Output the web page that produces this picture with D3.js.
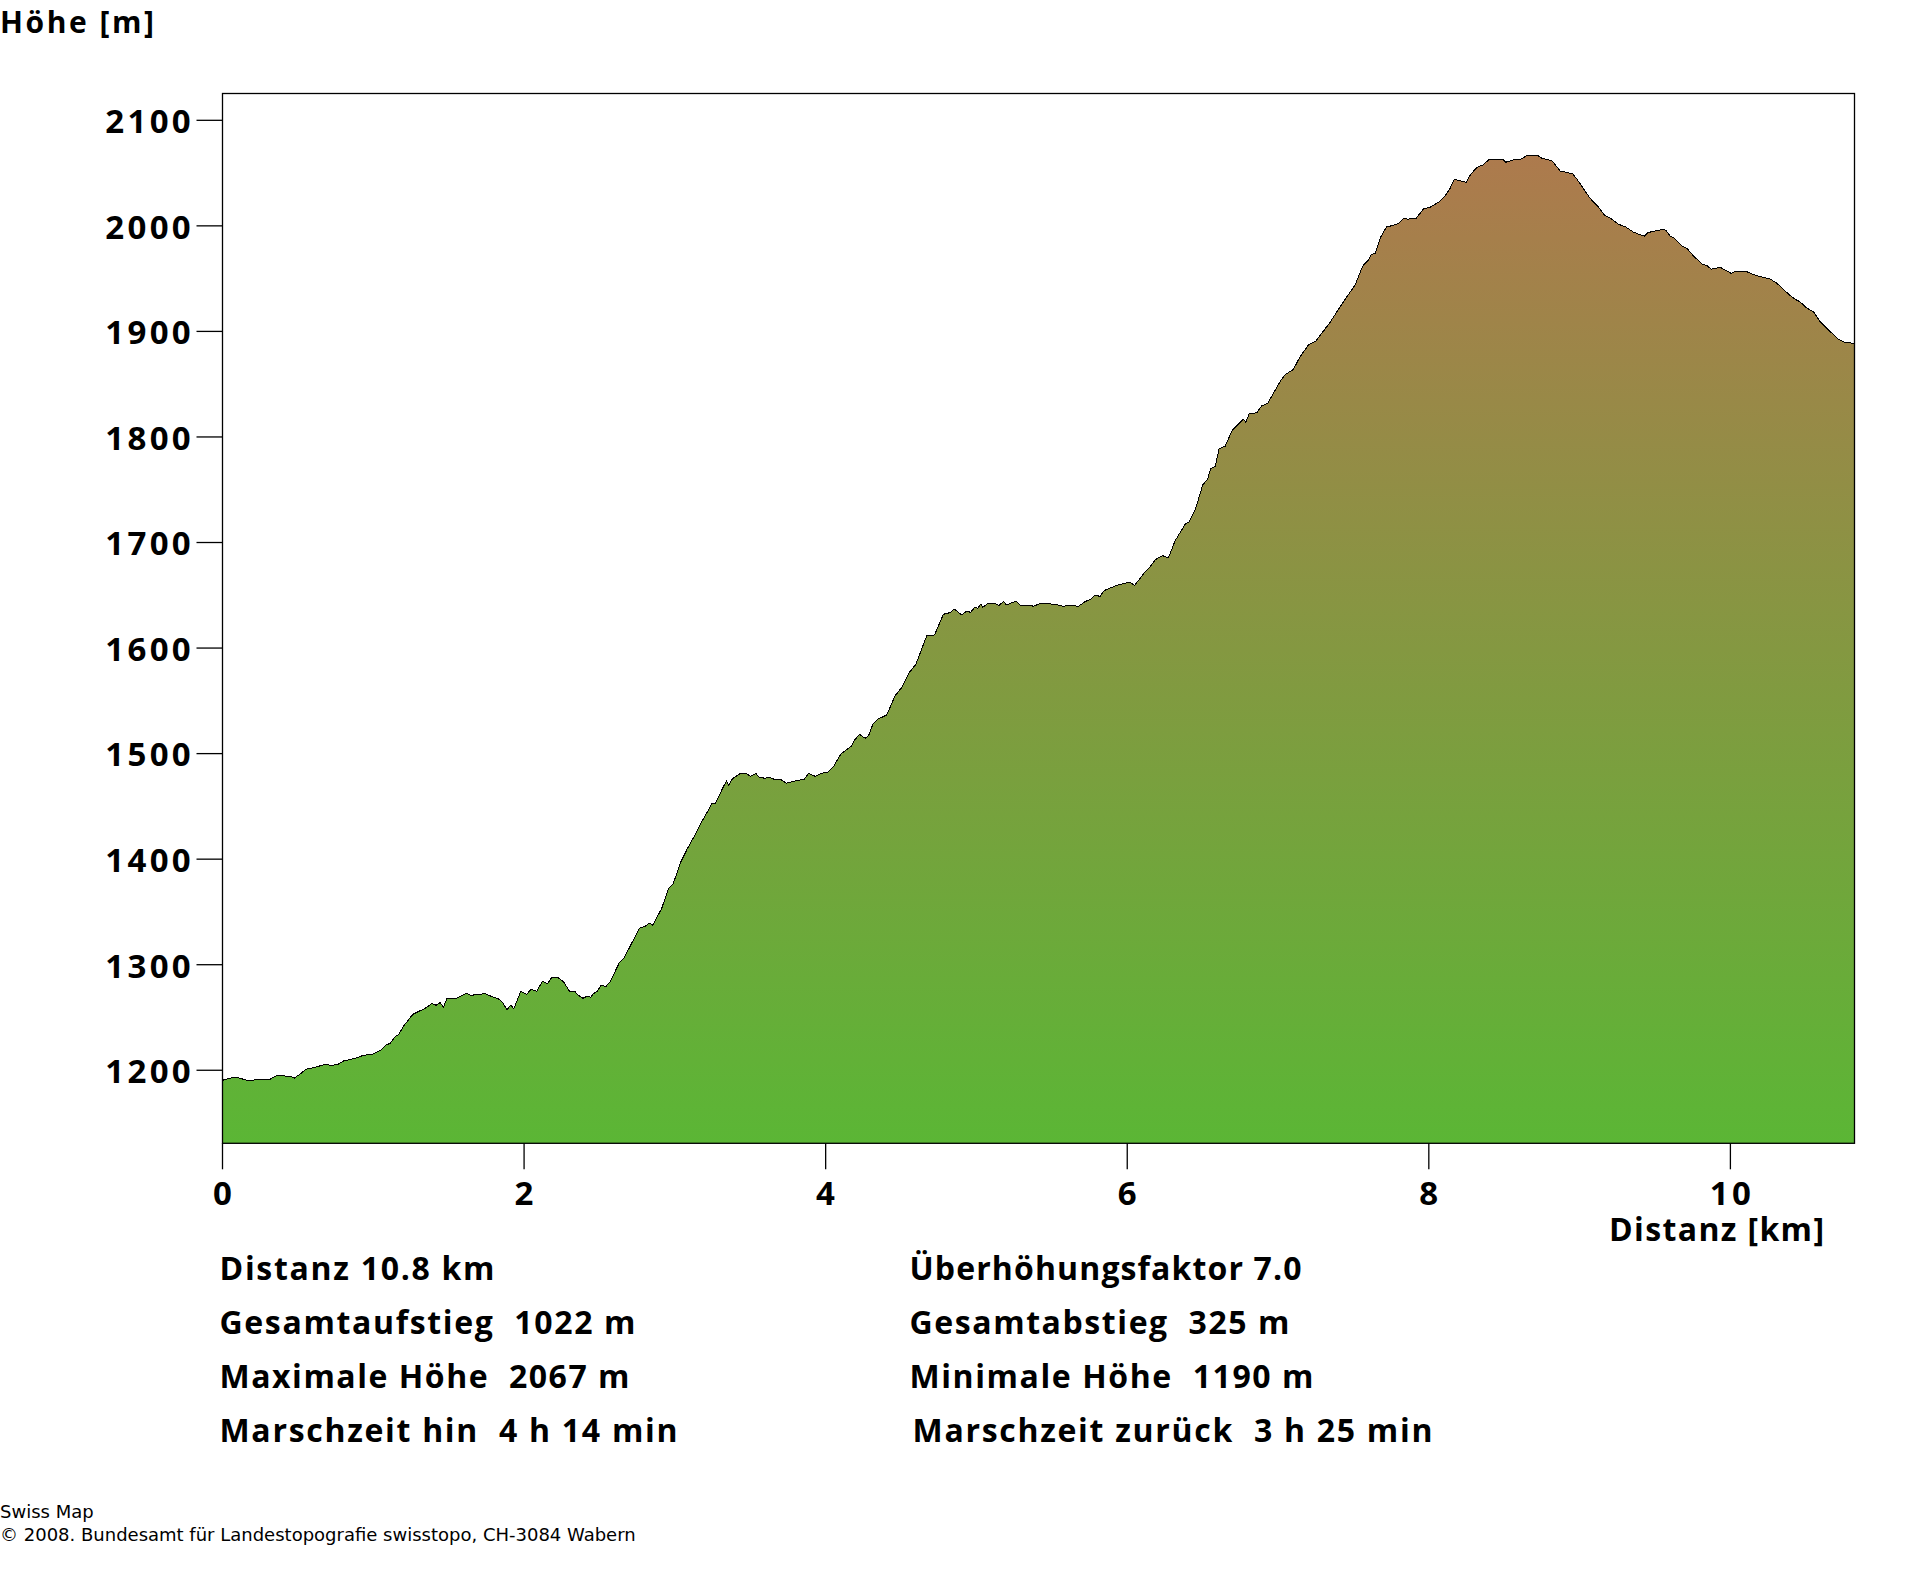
<!DOCTYPE html>
<html>
<head>
<meta charset="utf-8">
<script src="https://d3js.org/d3.v7.min.js"></script>
<style>
html,body{margin:0;padding:0;background:#fff;}
svg{display:block;}
text{white-space:pre;fill:#000;}
.b{font-family:"Open Sans","Noto Sans",sans-serif;font-weight:700;font-size:32px;}
.h{font-size:30px;}
.t{font-size:33px;letter-spacing:3.3px;}
.s{font-family:"DejaVu Sans",sans-serif;font-size:18px;}
</style>
</head>
<body>
<svg id="c" width="1920" height="1572"></svg>
<script>
const distanceKm = [0,.04,.08,.117,.172,.206,.217,.316,.36,.405,.453,.475,.515,.555,.603,.68,.725,.763,.802,.88,.935,.997,1.05,1.079,1.112,1.145,1.167,1.205,1.262,1.344,1.388,1.417,1.443,1.466,1.488,1.51,1.554,1.616,1.647,1.742,1.786,1.83,1.859,1.886,1.912,1.932,1.978,2.018,2.045,2.084,2.122,2.155,2.184,2.228,2.261,2.301,2.339,2.354,2.39,2.416,2.442,2.46,2.487,2.509,2.544,2.571,2.633,2.664,2.765,2.803,2.83,2.854,2.913,2.958,2.986,3.012,3.035,3.084,3.134,3.179,3.245,3.267,3.322,3.342,3.358,3.382,3.433,3.477,3.501,3.539,3.559,3.599,3.627,3.658,3.703,3.738,3.787,3.859,3.886,3.93,3.974,4.014,4.052,4.1,4.136,4.173,4.189,4.224,4.262,4.284,4.313,4.344,4.405,4.461,4.483,4.509,4.556,4.598,4.671,4.722,4.781,4.825,4.852,4.903,4.931,4.962,4.991,5.007,5.029,5.042,5.073,5.124,5.15,5.179,5.199,5.263,5.29,5.356,5.378,5.418,5.478,5.533,5.573,5.617,5.677,5.721,5.754,5.787,5.82,5.847,5.942,6.015,6.05,6.107,6.152,6.185,6.233,6.273,6.317,6.384,6.412,6.454,6.501,6.534,6.552,6.583,6.609,6.649,6.698,6.771,6.786,6.808,6.859,6.892,6.932,7.014,7.047,7.102,7.146,7.202,7.252,7.345,7.434,7.511,7.562,7.6,7.618,7.644,7.682,7.721,7.761,7.799,7.832,7.859,7.916,7.965,8.009,8.071,8.108,8.141,8.168,8.248,8.278,8.318,8.358,8.4,8.491,8.511,8.561,8.617,8.65,8.72,8.749,8.816,8.871,8.955,8.986,9.07,9.132,9.163,9.214,9.258,9.309,9.357,9.428,9.452,9.512,9.556,9.574,9.6,9.627,9.677,9.711,9.755,9.815,9.848,9.872,9.932,9.965,10.005,10.031,10.109,10.153,10.208,10.263,10.308,10.396,10.429,10.462,10.502,10.551,10.595,10.65,10.717,10.75,10.783,10.823];
const elevationM = [1190.5,1192,1193.4,1192.4,1190,1190.5,1191.5,1191.5,1195,1194.6,1194.3,1192.4,1196.5,1201,1202.5,1205.4,1204.7,1205.4,1208.8,1211.4,1214.2,1215.2,1219,1223.4,1225.6,1232,1233.5,1242.6,1253,1258.7,1263.2,1261.6,1264,1259.7,1268.2,1267.6,1268.2,1273,1271,1272.6,1269.8,1267.6,1264,1257.5,1261.6,1258.4,1274.8,1272,1276.7,1274.8,1284.3,1282,1288,1287.5,1284,1275,1274.5,1271.7,1268.2,1270,1269.2,1272.6,1275,1280.2,1279.6,1284,1302.3,1306.7,1334.5,1336.4,1339.3,1337.4,1353.5,1372.4,1376.2,1385.7,1396,1410.3,1423,1435.6,1452.3,1452.3,1468.7,1473.8,1470,1476.3,1481,1480.8,1478.5,1481,1477.6,1476.6,1477.6,1475.7,1475.4,1472,1473.8,1475.7,1481.4,1478.5,1481.4,1482.3,1487.7,1499.4,1503.5,1507.3,1512.3,1518.3,1514.5,1516.8,1527.8,1532.5,1536.6,1555,1558.8,1563.5,1577,1584.6,1611.8,1612.4,1632,1633.6,1637,1631.4,1634.6,1634,1639,1637.4,1641.5,1638.7,1642,1642,1640.5,1644,1641,1644.3,1640.5,1640.5,1639.6,1642,1642,1641,1639.6,1640.5,1639.6,1644,1646,1650,1649,1654.5,1660,1662.3,1659.5,1670.2,1677.2,1683.5,1687.6,1685.4,1701.5,1717.3,1719.8,1732.4,1754.6,1760.2,1769.7,1772,1788.7,1791.2,1806.7,1816.8,1814,1821.8,1823,1829.4,1832,1852.5,1859,1864,1876,1887.2,1891,1908.6,1928.2,1944,1962,1967.7,1972.5,1974,1989.8,1999.3,2000.2,2002.5,2007.2,2006.3,2007.2,2016,2017.6,2023,2028.4,2035.6,2044,2041.3,2048.8,2055.2,2057.7,2062.8,2063,2060.3,2062.5,2063.4,2067,2067,2064,2061.8,2052,2049.2,2043.5,2026,2016.7,2010.4,2006.3,2001.5,1998.7,1994,1990.2,1993.6,1995.5,1996.8,1995.5,1990.5,1988.6,1981,1978.8,1971.5,1963.6,1962,1958.9,1960.8,1958.2,1955,1956.6,1956.6,1953.8,1951.6,1949.7,1945.6,1934,1930.5,1928,1922.6,1918.5,1909.3,1901.4,1892.6,1890,1889.7,1887.8];
const yTicks = [1200,1300,1400,1500,1600,1700,1800,1900,2000,2100];
const xTicks = [0,2,4,6,8,10];
const yTitle = "Höhe [m]";
const xTitle = "Distanz [km]";
const statsLeft = ["Distanz 10.8 km","Gesamtaufstieg  1022 m","Maximale Höhe  2067 m","Marschzeit hin  4 h 14 min"];
const statsRight = ["Überhöhungsfaktor 7.0","Gesamtabstieg  325 m","Minimale Höhe  1190 m","Marschzeit zurück  3 h 25 min"];
const footer = ["Swiss Map","© 2008. Bundesamt für Landestopografie swisstopo, CH-3084 Wabern"];

const svg = d3.select("#c");
const L=222.5,R=1854.5,T=93.5,B=1143.3;
const x = d3.scaleLinear().domain([0,10.823]).range([L,R]);
const y = d3.scaleLinear().domain([1130.8,2125.4]).range([B,T]);
const pts = distanceKm.map((d,i)=>[d,elevationM[i]]);

const grad = svg.append("defs").append("linearGradient").attr("id","g")
  .attr("gradientUnits","userSpaceOnUse").attr("x1",0).attr("x2",0).attr("y1",y(1130.8)).attr("y2",y(2067));
grad.append("stop").attr("offset",0).attr("stop-color","#5bb635");
grad.append("stop").attr("offset",1).attr("stop-color","#ad7a4d");

svg.append("path").datum(pts).attr("fill","url(#g)")
  .attr("d",d3.area().x(d=>x(d[0])).y0(B).y1(d=>y(d[1])));
svg.append("path").datum(pts).attr("fill","none").attr("stroke","#000").attr("stroke-width",1)
  .attr("shape-rendering","crispEdges")
  .attr("d",d3.line().x(d=>x(d[0])).y(d=>y(d[1])));
svg.append("rect").attr("x",L).attr("y",T).attr("width",R-L).attr("height",B-T)
  .attr("fill","none").attr("stroke","#000").attr("stroke-width",1.3);

const ay = svg.append("g").attr("transform",`translate(${L},0)`)
  .call(d3.axisLeft(y).tickValues(yTicks).tickFormat(d3.format("d")).tickSize(26).tickPadding(2.5).offset(0));
const ax = svg.append("g").attr("transform",`translate(0,${B})`)
  .call(d3.axisBottom(x).tickValues(xTicks).tickFormat(d3.format("d")).tickSize(26).offset(0));
[ay,ax].forEach(a=>{
  a.attr("font-size",null).attr("font-family",null);
  a.select(".domain").remove();
  a.selectAll(".tick line").attr("stroke","#000").attr("stroke-width",1.3);
  a.selectAll("text").attr("class","b t");
});
ay.selectAll("text").attr("dy",12.8);
ax.selectAll("text").attr("y",62).attr("dy",0).attr("dx",1.5);

const label=(t,px,py,cls,w)=>{
  const s=svg.append("text").attr("x",px).attr("y",py).attr("class",cls).text(t);
  if(w) s.attr("textLength",w).attr("lengthAdjust","spacing");
  return s;
};
label(yTitle,0,32.5,"b h",154);
label(xTitle,1609,1241,"b",215);
const rows=[1279.5,1333.5,1387.7,1441.7];
const wl=[275,416,410,458], wr=[392,380,404,520];
statsLeft.forEach((t,i)=>label(t,219.5,rows[i],"b",wl[i]));
statsRight.forEach((t,i)=>label(t,i===3?912.5:909.5,rows[i],"b",wr[i]));
label(footer[0],0,1518.3,"s");
label(footer[1],0,1540.5,"s");
</script>
</body>
</html>
